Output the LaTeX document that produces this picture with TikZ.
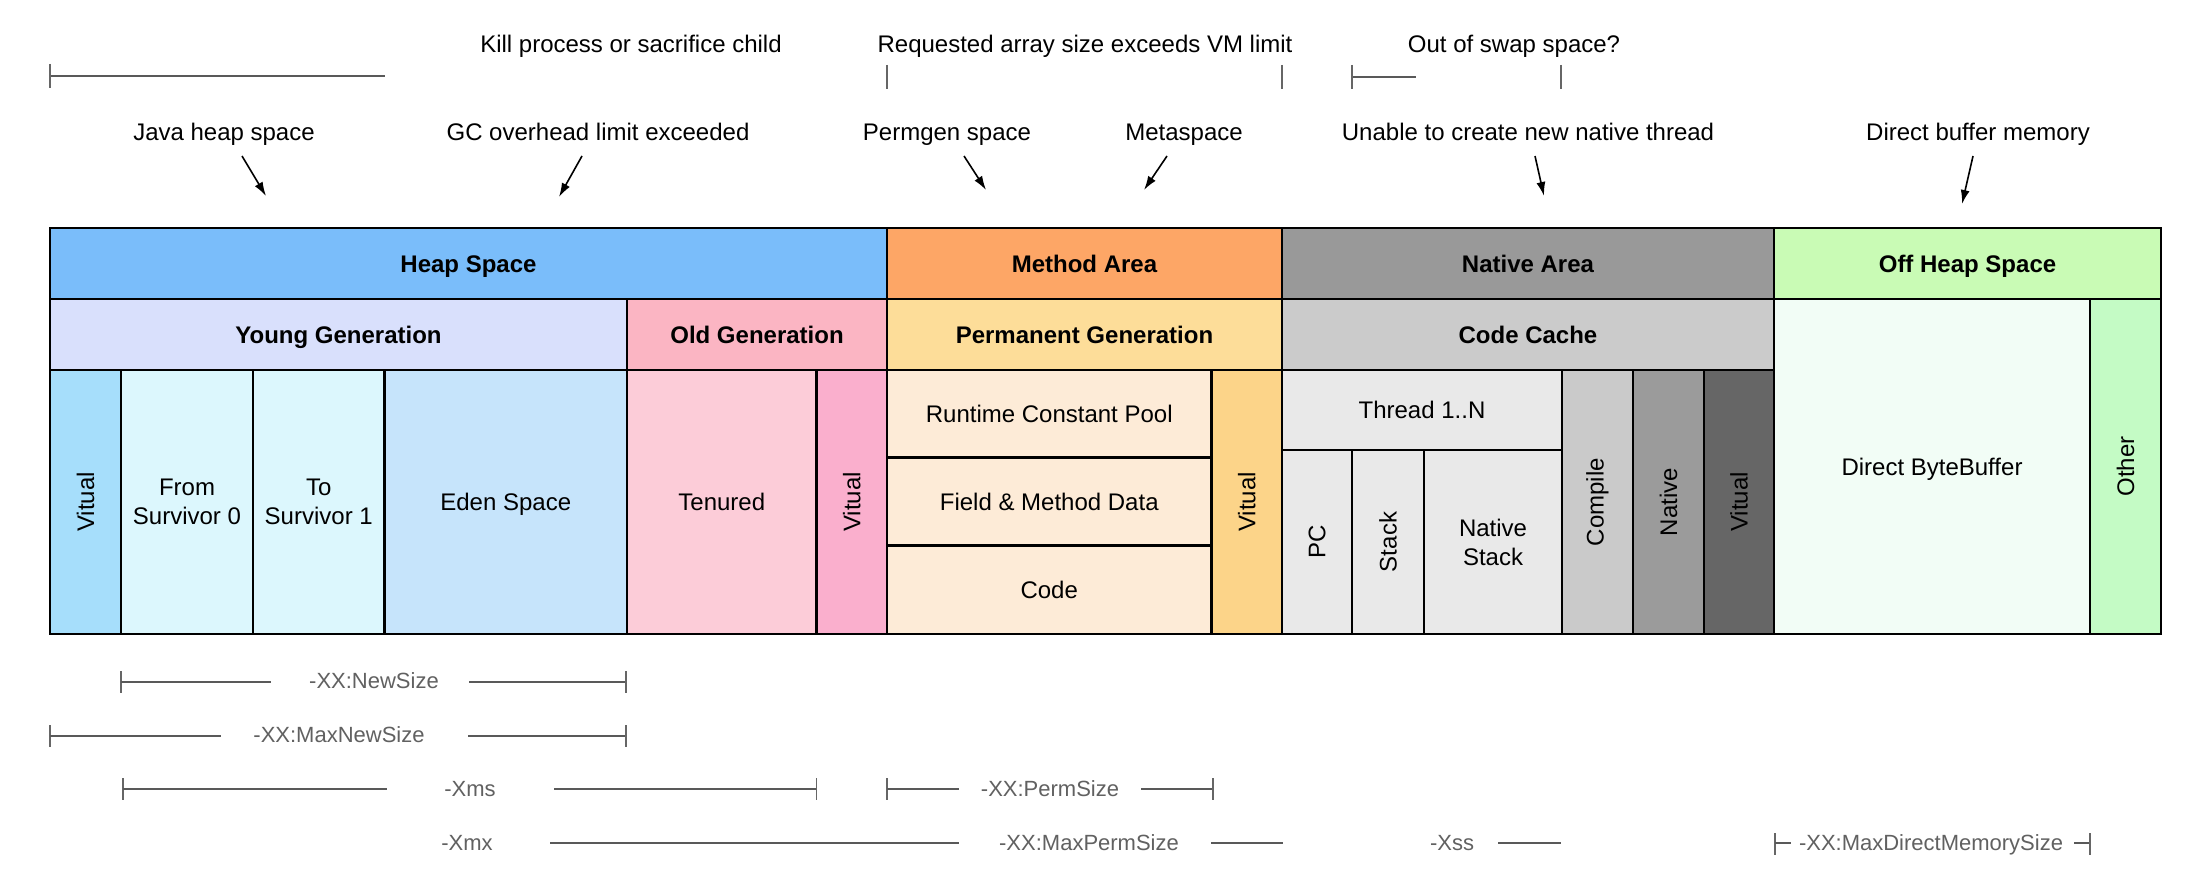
\documentclass[tikz,border=0pt]{standalone}
\usepackage{fontspec}
\setmainfont{Liberation Sans}
\usetikzlibrary{arrows.meta}
\definecolor{heapc}{RGB}{122,189,250}
\definecolor{youngc}{RGB}{217,224,252}
\definecolor{oldc}{RGB}{251,181,195}
\definecolor{yvirtc}{RGB}{166,222,251}
\definecolor{survc}{RGB}{220,247,253}
\definecolor{edenc}{RGB}{198,228,251}
\definecolor{tenc}{RGB}{252,204,216}
\definecolor{ovirtc}{RGB}{250,175,205}
\definecolor{methc}{RGB}{253,166,102}
\definecolor{permc}{RGB}{253,221,153}
\definecolor{pitemc}{RGB}{253,235,215}
\definecolor{pvirtc}{RGB}{252,212,137}
\definecolor{natc}{RGB}{153,153,153}
\definecolor{ccachec}{RGB}{203,203,203}
\definecolor{thrc}{RGB}{233,233,233}
\definecolor{compc}{RGB}{202,202,202}
\definecolor{nativec}{RGB}{155,155,155}
\definecolor{nvirtc}{RGB}{102,102,102}
\definecolor{offc}{RGB}{201,251,181}
\definecolor{dbbc}{RGB}{242,253,246}
\definecolor{otherc}{RGB}{196,251,197}
\newcommand\cellnode[7]{\node[cellbox,#6,minimum width={#4-#2},minimum height={#5-#3},anchor=north west] (#1) at (#2,#3) {#7};}
\begin{document}
\begin{tikzpicture}[x=1pt,y=-1pt,
  every node/.style={font=\fontsize{24}{29}\selectfont, text height=22pt, text depth=5pt},
  natural/.style={text height={}, text depth={}},
  cellbox/.style={draw=black, line width=2.4pt, inner sep=0pt, outer sep=0pt, align=center, rectangle},
  hdr/.style={font=\fontsize{24}{29}\selectfont\bfseries},
  toplbl/.style={inner sep=0pt},
  dimlbl/.style={font=\fontsize{22}{26}\selectfont, text=black!62, inner sep=0pt, text height=20pt, text depth=4.6pt},
  dimln/.style={draw=black!65, line width=2pt},
  dimtk/.style={draw=black!60, line width=1.6pt},
  arr/.style={-{Latex[length=14pt,width=9pt]}, line width=1.6pt}
]
\fill[white] (0,0) rectangle (2208,896);
\useasboundingbox (0,0) rectangle (2208,896);

% ---- row 1
\cellnode{heap}{50}{228}{887}{299}{fill=heapc,hdr}{Heap Space}
\cellnode{meth}{887}{228}{1282}{299}{fill=methc,hdr}{Method Area}
\cellnode{natarea}{1282}{228}{1774}{299}{fill=natc,hdr}{Native Area}
\cellnode{offheap}{1774}{228}{2161}{299}{fill=offc,hdr}{Off Heap Space}
% ---- row 2
\cellnode{young}{50}{299}{627}{370}{fill=youngc,hdr}{Young Generation}
\cellnode{old}{627}{299}{887}{370}{fill=oldc,hdr}{Old Generation}
\cellnode{perm}{887}{299}{1282}{370}{fill=permc,hdr}{Permanent Generation}
\cellnode{ccache}{1282}{299}{1774}{370}{fill=ccachec,hdr}{Code Cache}
\cellnode{dbb}{1774}{299}{2090}{634}{fill=dbbc}{Direct ByteBuffer}
\cellnode{other}{2090}{299}{2161}{634}{fill=otherc,natural}{\rotatebox{90}{Other}}
% ---- row 3
\cellnode{yvirt}{50}{370}{121}{634}{fill=yvirtc,natural}{\rotatebox{90}{Vitual}}
\cellnode{from}{121}{370}{253}{634}{fill=survc,natural}{From\\Survivor 0}
\cellnode{to}{253}{370}{384.5}{634}{fill=survc,natural}{To\\Survivor 1}
\cellnode{eden}{384.5}{370}{627}{634}{fill=edenc}{Eden Space}
\cellnode{ten}{627}{370}{816.5}{634}{fill=tenc}{Tenured}
\cellnode{ovirt}{816.5}{370}{887}{634}{fill=ovirtc,natural}{\rotatebox{90}{Vitual}}
\cellnode{rcp}{887}{370}{1211.5}{457.5}{fill=pitemc}{Runtime Constant Pool}
\cellnode{fmd}{887}{457.5}{1211.5}{545.5}{fill=pitemc}{Field \& Method Data}
\cellnode{code}{887}{545.5}{1211.5}{634}{fill=pitemc}{Code}
\cellnode{pvirt}{1211.5}{370}{1282}{634}{fill=pvirtc,natural}{\rotatebox{90}{Vitual}}
\cellnode{thread}{1282}{370}{1562}{450}{fill=thrc}{Thread 1..N}
\cellnode{pc}{1282}{450}{1352}{634}{fill=thrc,natural}{\rotatebox{90}{PC}}
\cellnode{stack}{1352}{450}{1424}{634}{fill=thrc,natural}{\rotatebox{90}{Stack}}
\cellnode{nstack}{1424}{450}{1562}{634}{fill=thrc,natural}{Native\\Stack}
\cellnode{compile}{1562}{370}{1633}{634}{fill=compc,natural}{\rotatebox{90}{Compile}}
\cellnode{native}{1633}{370}{1704}{634}{fill=nativec,natural}{\rotatebox{90}{Native}}
\cellnode{nvirt}{1704}{370}{1774}{634}{fill=nvirtc,natural}{\rotatebox{90}{Vitual}}

% ---- top labels
\node[toplbl] (kill) at (631,44) {Kill process or sacrifice child};
\node[toplbl] (req) at (1085,44) {Requested array size exceeds VM limit};
\node[toplbl] (swap) at (1514,44) {Out of swap space?};
\node[toplbl] (java) at (224,132) {Java heap space};
\node[toplbl] (gc) at (598,132) {GC overhead limit exceeded};
\node[toplbl] (permgen) at (947,132) {Permgen space};
\node[toplbl] (meta) at (1184,132) {Metaspace};
\node[toplbl] (unable) at (1528,132) {Unable to create new native thread};
\node[toplbl] (dbm) at (1978,132) {Direct buffer memory};

% top dimension marks
\draw[dimln] (50,76) -- (385,76);
\draw[dimtk] (50,64) -- (50,88);
\draw[dimtk] (887,65) -- (887,89);
\draw[dimtk] (1282,65) -- (1282,89);
\draw[dimln] (1352,77) -- (1416,77);
\draw[dimtk] (1352,65) -- (1352,89);
\draw[dimtk] (1561,65) -- (1561,89);

% arrows
\coordinate (a1s) at (242,156); \coordinate (a1e) at (266,196);
\coordinate (a2s) at (582,156); \coordinate (a2e) at (559,197);
\coordinate (a3s) at (964,156); \coordinate (a3e) at (986,190);
\coordinate (a4s) at (1167,156); \coordinate (a4e) at (1144,190);
\coordinate (a5s) at (1535,156); \coordinate (a5e) at (1544,196);
\coordinate (a6s) at (1973,156); \coordinate (a6e) at (1962,204);
\draw[arr] (a1s) -- (a1e);
\draw[arr] (a2s) -- (a2e);
\draw[arr] (a3s) -- (a3e);
\draw[arr] (a4s) -- (a4e);
\draw[arr] (a5s) -- (a5e);
\draw[arr] (a6s) -- (a6e);

% ---- bottom dimension labels
\node[dimlbl] (newsize) at (374,681) {-XX:NewSize};
\draw[dimtk] (121,671) -- (121,693);
\draw[dimln] (121,682) -- (271,682);
\draw[dimln] (469,682) -- (626,682);
\draw[dimtk] (626,671) -- (626,693);

\node[dimlbl] (maxnew) at (339,735) {-XX:MaxNewSize};
\draw[dimtk] (50,725) -- (50,747);
\draw[dimln] (50,736) -- (221,736);
\draw[dimln] (468,736) -- (626,736);
\draw[dimtk] (626,725) -- (626,747);

\node[dimlbl] (xms) at (470,789) {-Xms};
\draw[dimtk] (123,778) -- (123,800);
\draw[dimln] (123,789) -- (387,789);
\draw[dimln] (554,789) -- (816.5,789);
\draw[dimtk] (816.5,778) -- (816.5,800);

\node[dimlbl] (permsize) at (1050,789) {-XX:PermSize};
\draw[dimtk] (887,778) -- (887,800);
\draw[dimln] (887,789) -- (959,789);
\draw[dimln] (1141,789) -- (1213,789);
\draw[dimtk] (1213,778) -- (1213,800);

\node[dimlbl] (xmx) at (467,843) {-Xmx};
\draw[dimln] (550,843) -- (959,843);
\node[dimlbl] (maxperm) at (1089,843) {-XX:MaxPermSize};
\draw[dimln] (1211,843) -- (1283,843);
\node[dimlbl] (xss) at (1452,843) {-Xss};
\draw[dimln] (1498,843) -- (1561,843);
\node[dimlbl] (maxdirect) at (1931,843) {-XX:MaxDirectMemorySize};
\draw[dimtk] (1775,833) -- (1775,855);
\draw[dimln] (1775,843) -- (1791,843);
\draw[dimln] (2074,843) -- (2090,843);
\draw[dimtk] (2090,833) -- (2090,855);
\end{tikzpicture}
\end{document}
